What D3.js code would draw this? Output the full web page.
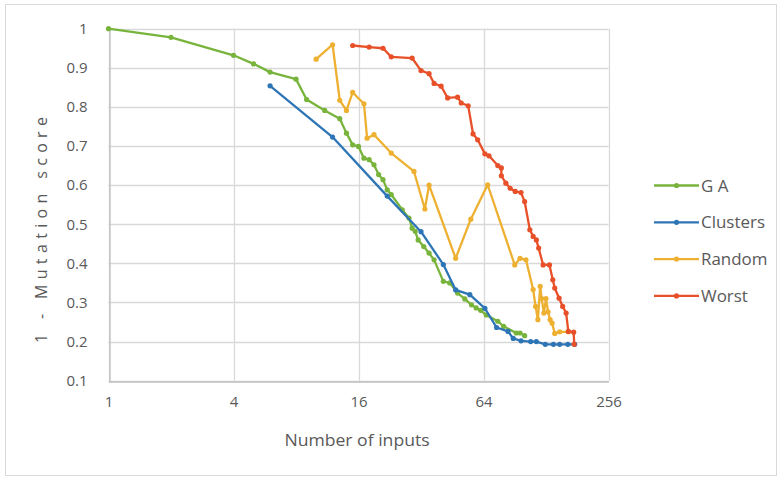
<!DOCTYPE html>
<html>
<head>
<meta charset="utf-8">
<script src="https://cdn.jsdelivr.net/npm/d3@7"></script>
<style>
  body { margin: 0; background: #fff; }
  svg text { font-family: "Open Sans", sans-serif; fill: #595959; }
</style>
</head>
<body>
<div id="chart"></div>
<script>
// values
const gaX = [1, 2, 4, 5, 6, 8, 9, 11, 13, 14, 15, 16, 17, 18, 19, 20, 21, 22, 23, 26, 28, 29, 30, 31, 33, 35, 37, 41, 44, 48, 52, 56, 59, 62, 66, 75, 80, 92, 96, 101]
const gaY = [1.0, .978, .932, .91, .889, .871, .819, .791, .77, .733, .703, .699, .669, .665, .652, .627, .614, .588, .576, .537, .516, .49, .482, .46, .443, .426, .409, .354, .35, .324, .309, .294, .286, .28, .268, .252, .239, .222, .222, .215]

const clX = [6, 12, 22, 32, 41, 47, 55, 65, 74, 84, 89, 97, 108, 115, 127, 139, 149, 163, 176]
const clY = [.854, .723, .572, .481, .397, .332, .32, .285, .236, .226, .208, .202, .2, .2, .193, .193, .193, .193, .193]

const rnX = [10, 12, 13, 14, 15, 17, 17.6, 19, 23, 29.6, 33.4, 35, 47, 55.6, 67, 90.5, 96, 102.5, 111, 114, 117, 120, 122, 125, 128, 131, 134, 137, 141, 149, 164]
const rnY = [.922, .959, .817, .791, .837, .808, .72, .729, .682, .635, .539, .6, .413, .513, .601, .396, .413, .409, .333, .29, .256, .341, .31, .273, .31, .276, .256, .247, .221, .225, .225]

const wsX = [15, 18, 21, 23, 29, 32, 35, 37, 40, 43, 48, 50, 54, 57, 60, 65, 68, 75, 78, 78, 82, 86, 91, 97, 101, 107, 111, 115, 118, 124, 133, 138, 141, 148, 154, 160, 164, 174, 175]
const wsY = [.957, .953, .95, .928, .925, .893, .885, .86, .853, .823, .825, .81, .803, .731, .716, .68, .675, .65, .644, .624, .605, .592, .584, .581, .558, .486, .469, .46, .439, .396, .396, .358, .337, .311, .29, .273, .226, .224, .193]

const seriesNames = ["G A", "Clusters", "Random", "Worst"]
const seriesColors = ["#78b43c", "#2e75b6", "#eeb031", "#e8502a"]
const xTicks = [1, 4, 16, 64, 256]
const yTicks = [0.1, 0.2, 0.3, 0.4, 0.5, 0.6, 0.7, 0.8, 0.9, 1]

const series = [
    {name: seriesNames[0], color: seriesColors[0], pts: gaX.map((x, i) => [x, gaY[i]])},
    {name: seriesNames[1], color: seriesColors[1], pts: clX.map((x, i) => [x, clY[i]])},
    {name: seriesNames[2], color: seriesColors[2], pts: rnX.map((x, i) => [x, rnY[i]])},
    {name: seriesNames[3], color: seriesColors[3], pts: wsX.map((x, i) => [x, wsY[i]])}
]

const W = 783, H = 478
const svg = d3.select("#chart").append("svg")
    .attr("width", W)
    .attr("height", H)

// outer chart border
svg.append("rect")
    .attr("x", 5.5).attr("y", 4.5)
    .attr("width", 771).attr("height", 471)
    .attr("fill", "none")
    .attr("stroke", "#d9d9d9")

const x = d3.scaleLog().base(2)
    .domain([1, 256])
    .range([108.5, 608.5])
const y = d3.scaleLinear()
    .domain([0.1, 1])
    .range([380.7, 28.7])

// gridlines
svg.append("g")
    .selectAll("line.h").data(yTicks)
    .join("line")
        .attr("x1", x(1)).attr("x2", x(256))
        .attr("y1", d => Math.round(y(d)) + 0.5)
        .attr("y2", d => Math.round(y(d)) + 0.5)
        .attr("stroke", "#d9d9d9")
        .attr("stroke-width", 1.3)
svg.append("g")
    .selectAll("line.v").data(xTicks)
    .join("line")
        .attr("y1", y(1)).attr("y2", y(0.1))
        .attr("x1", d => Math.round(x(d)) + 0.5)
        .attr("x2", d => Math.round(x(d)) + 0.5)
        .attr("stroke", "#d9d9d9")
        .attr("stroke-width", 1.3)

// axes
const xAxis = svg.append("g")
    .attr("transform", `translate(0, ${Math.round(y(0.1)) + 0.5})`)
    .call(d3.axisBottom(x).tickValues(xTicks).tickFormat(d3.format("d")).tickSize(0).tickPadding(15))
xAxis.select(".domain").attr("stroke", "#bfbfbf").attr("stroke-width", 1.3)
xAxis.selectAll("text").attr("font-size", 15).style("font-family", "Open Sans")

const yAxis = svg.append("g")
    .attr("transform", `translate(${Math.round(x(1)) + 0.5}, 0)`)
    .call(d3.axisLeft(y).tickValues(yTicks).tickFormat(d => d == 1 ? "1" : d3.format(".1f")(d)).tickSize(0).tickPadding(22))
yAxis.select(".domain").attr("stroke", "#bfbfbf").attr("stroke-width", 1.3)
yAxis.selectAll("text").attr("font-size", 15).style("font-family", "Open Sans")

// axis titles
svg.append("text")
    .attr("transform", "translate(357, 446) scale(1.1, 1)")
    .attr("text-anchor", "middle")
    .attr("font-size", 16)
    .text("Number  of inputs")
svg.append("text")
    .attr("transform", "translate(47, 230) rotate(-90)")
    .attr("text-anchor", "middle")
    .attr("font-size", 16)
    .attr("textLength", 226)
    .text("1 - Mutation score")

// lines and markers
const line = d3.line()
    .x(d => x(d[0]))
    .y(d => y(d[1]))

series.forEach(s => {
    svg.append("path")
        .datum(s.pts)
        .attr("d", line)
        .attr("fill", "none")
        .attr("stroke", s.color)
        .attr("stroke-width", 2.3)
        .attr("stroke-linejoin", "round")
    svg.append("g")
        .selectAll("circle").data(s.pts)
        .join("circle")
            .attr("cx", d => x(d[0]))
            .attr("cy", d => y(d[1]))
            .attr("r", 2.6)
            .attr("fill", s.color)
})

// legend
const legend = svg.append("g")
    .selectAll("g").data(series)
    .join("g")
        .attr("transform", (d, i) => `translate(654, ${185.5 + i * 36.8})`)
legend.append("line")
    .attr("x1", 0).attr("x2", 45)
    .attr("stroke", d => d.color)
    .attr("stroke-width", 2.3)
legend.append("circle")
    .attr("cx", 22.5).attr("r", 2.6)
    .attr("fill", d => d.color)
legend.append("text")
    .attr("transform", "translate(47, 6) scale(1.06, 1)")
    .attr("font-size", 16)
    .text(d => d.name)
</script>
</body>
</html>
